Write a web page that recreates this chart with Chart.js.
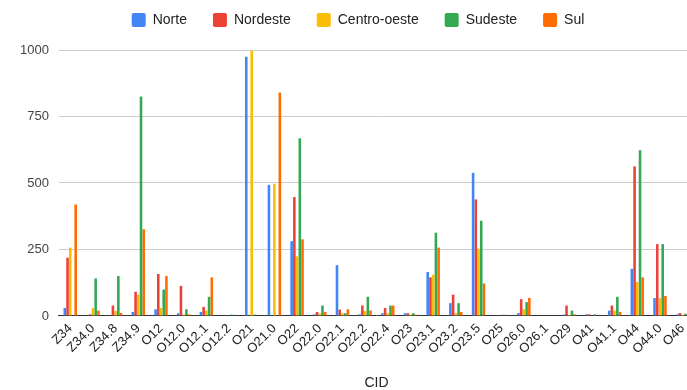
<!DOCTYPE html>
<html>
<head>
<meta charset="utf-8">
<script src="https://cdn.jsdelivr.net/npm/chart.js@4.4.1/dist/chart.umd.min.js"></script>
<style>
  html, body { margin: 0; padding: 0; background: #fff; overflow: hidden; }
  #wrap { width: 704px; height: 390px; }
</style>
</head>
<body>
<div id="wrap"><canvas id="c" width="704" height="390"></canvas></div>
<script>
// Cases per CID code, grouped by region
const categories = ['Z34','Z34.0','Z34.8','Z34.9','O12','O12.0','O12.1','O12.2','O21','O21.0',
  'O22','O22.0','O22.1','O22.2','O22.4','O23','O23.1','O23.2','O23.5','O25',
  'O26.0','O26.1','O29','O41','O41.1','O44','O44.0','O46'];

const norte       = [30, 0, 0, 15, 25, 10, 15, 0, 975, 493, 281, 6, 191, 6, 10, 10, 165, 48, 538, 0, 11, 0, 5, 6, 20, 177, 67, 6];
const nordeste    = [219, 6, 39, 91, 158, 113, 34, 0, 0, 0, 447, 15, 24, 39, 30, 10, 145, 80, 438, 0, 63, 0, 39, 6, 39, 562, 270, 11];
const centroOeste = [257, 30, 19, 80, 30, 5, 20, 0, 998, 497, 224, 9, 10, 19, 10, 5, 155, 11, 253, 0, 25, 0, 4, 0, 20, 127, 67, 4];
const sudeste     = [0, 141, 150, 825, 99, 25, 72, 5, 5, 0, 668, 39, 10, 72, 39, 10, 313, 48, 358, 5, 52, 0, 20, 6, 72, 623, 270, 8];
const sul         = [419, 20, 11, 326, 150, 6, 145, 0, 0, 840, 288, 15, 25, 20, 39, 5, 257, 15, 122, 0, 68, 0, 6, 0, 15, 145, 75, 3];

const yTicks = [0, 250, 500, 750, 1000];

const FONT = "'Liberation Sans', Arial, sans-serif";

const series = [
  { label: 'Norte',        data: norte,       color: '#4285F4' },
  { label: 'Nordeste',     data: nordeste,    color: '#EA4335' },
  { label: 'Centro-oeste', data: centroOeste, color: '#FBBC04' },
  { label: 'Sudeste',      data: sudeste,     color: '#34A853' },
  { label: 'Sul',          data: sul,         color: '#FF6D01' }
];

// Extra room between the legend row and the plot, and a small nudge of the legend row
const legendPlacement = {
  id: 'legendPlacement',
  beforeInit(chart) {
    const fit = chart.legend.fit;
    chart.legend.fit = function () {
      fit.call(this);
      this.height += 13;
    };
  },
  afterLayout(chart) {
    chart.legend.left += 6;
    chart.legend.right += 6;
  }
};

new Chart(document.getElementById('c'), {
  type: 'bar',
  data: {
    labels: categories,
    datasets: series.map(s => ({
      label: s.label,
      data: s.data,
      backgroundColor: s.color,
      borderWidth: 0,
      categoryPercentage: 0.6,
      barPercentage: 0.95
    }))
  },
  plugins: [legendPlacement],
  options: {
    responsive: false,
    animation: false,
    layout: { padding: { left: 10, right: 10, top: -13, bottom: 0 } },
    plugins: {
      tooltip: { enabled: false },
      legend: {
        position: 'top',
        labels: {
          font: { family: FONT, size: 14 },
          color: '#222',
          boxWidth: 14,
          boxHeight: 14,
          padding: 26,
          useBorderRadius: true,
          borderRadius: 2
        }
      }
    },
    scales: {
      x: {
        // let the first rotated label hang under the value labels
        afterFit(scale) { scale.paddingLeft = 0; scale.paddingRight = 0; },
        grid: { display: false, drawTicks: false },
        border: { display: true, color: '#333', width: 1 },
        ticks: {
          autoSkip: false,
          maxRotation: 45,
          minRotation: 45,
          padding: 5,
          color: '#222',
          font: { family: FONT, size: 13 }
        },
        title: {
          display: true,
          text: 'CID',
          color: '#222',
          font: { family: FONT, size: 14, lineHeight: 1 },
          padding: { top: 14, bottom: 0 }
        }
      },
      y: {
        min: 0,
        max: 1000,
        afterBuildTicks: axis => { axis.ticks = yTicks.map(v => ({ value: v })); },
        grid: {
          drawTicks: false,
          color: ctx => ctx.tick && ctx.tick.value === 0 ? 'rgba(0,0,0,0)' : '#ccc'
        },
        border: { display: false },
        ticks: {
          padding: 10,
          color: '#444',
          font: { family: FONT, size: 13 },
          callback: v => String(v)
        }
      }
    }
  }
});
</script>
</body>
</html>
